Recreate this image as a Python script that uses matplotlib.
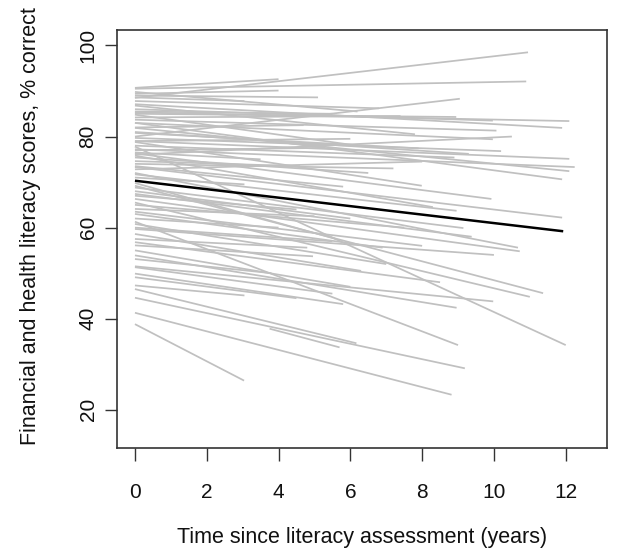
import matplotlib
matplotlib.use("Agg")
import matplotlib.pyplot as plt

# Individual trajectories: start time, start score, end time, end score
t_start = [0]*78 + [3.75]
y_start = [90.7, 88.5, 90.5, 89.4, 89.0, 88.6, 89.8, 87.8, 87.1, 85.3,
           85.0, 86.0, 85.5, 84.2, 83.7, 83.0, 83.0, 82.0, 81.9, 81.0,
           80.8, 80.0, 79.7, 79.0, 79.0, 78.8, 78.0, 77.8, 77.2, 77.0,
           76.5, 76.3, 76.0, 75.4, 74.6, 74.0, 73.5, 73.3, 72.8, 72.0,
           71.7, 71.0, 69.2, 68.8, 68.0, 67.4, 67.0, 66.3, 65.5, 65.0,
           64.1, 63.5, 63.0, 62.0, 61.3, 60.8, 60.0, 59.7, 58.6, 57.5,
           56.8, 56.1, 55.0, 53.9, 53.1, 51.5, 51.3, 49.9, 49.1, 47.3,
           46.5, 44.6, 41.3, 38.8, 86.8, 84.8, 75.8, 69.8, 37.8]
t_end = [4.0, 10.95, 10.9, 4.0, 5.1, 3.05, 6.2, 6.8, 11.9, 12.1,
         8.95, 9.97, 5.5, 7.4, 10.07, 11.9, 9.97, 4.7, 12.1, 9.3,
         7.9, 9.05, 10.2, 12.1, 6.0, 7.99, 8.9, 12.0, 12.25, 5.2,
         3.5, 9.93, 10.5, 6.5, 4.6, 7.2, 5.8, 11.9, 8.0, 10.67,
         8.96, 3.05, 11.37, 9.15, 6.0, 9.38, 4.5, 10.72, 11.0, 7.5,
         5.0, 8.0, 6.9, 4.0, 9.0, 7.0, 5.5, 10.0, 6.3, 4.8,
         8.5, 4.96, 6.0, 8.96, 3.8, 9.98, 5.5, 5.8, 4.5, 3.05,
         6.17, 9.19, 8.82, 3.04, 7.8, 6.2, 8.3, 5.6, 5.7]
y_end = [92.6, 98.5, 92.1, 90.1, 88.6, 87.8, 85.5, 86.2, 81.9, 83.4,
         84.3, 83.5, 85.0, 84.5, 81.3, 70.6, 79.4, 82.5, 72.4, 76.2,
         77.4, 88.3, 76.8, 75.1, 79.5, 69.2, 75.4, 34.2, 73.3, 77.5,
         75.0, 66.3, 80.0, 72.0, 73.5, 73.0, 69.0, 62.2, 74.5, 55.6,
         63.7, 69.5, 45.6, 59.9, 62.0, 58.0, 64.0, 54.8, 44.8, 60.0,
         62.5, 56.0, 55.6, 60.0, 34.2, 52.0, 57.0, 54.0, 50.5, 55.6,
         48.0, 53.7, 47.0, 42.4, 50.0, 43.8, 45.5, 43.2, 44.5, 45.1,
         34.6, 29.1, 23.3, 26.4, 80.5, 78.0, 64.5, 57.5, 33.7]

# Average trajectory
mean_t = [0, 11.93]
mean_y = [70.3, 59.2]

x_ticks = [0, 2, 4, 6, 8, 10, 12]
y_ticks = [20, 40, 60, 80, 100]

plt.rcParams['font.family'] = ['Liberation Sans', 'DejaVu Sans']

W, H = 617, 554
fig = plt.figure(figsize=(W/100, H/100), dpi=100)
left, right, top, bottom = 117, 607, 30, 448
ax = fig.add_axes([left/W, 1-bottom/H, (right-left)/W, (bottom-top)/H])

for ts, ys, te, ye in zip(t_start, y_start, t_end, y_end):
    ax.plot([ts, te], [ys, ye], color='#c0c0c0', lw=1.25, solid_capstyle='butt')
ax.plot(mean_t, mean_y, color='black', lw=1.8, solid_capstyle='butt')

ax.set_xlim(-0.5, 13.15)
ax.set_ylim(11.6, 103.4)
ax.set_xticks(x_ticks)
ax.set_yticks(y_ticks)
ax.set_yticklabels([str(v) for v in y_ticks], rotation=90, va='center')
ax.tick_params(axis='both', direction='out', length=9, width=1, labelsize=15,
               color='#333333', labelcolor='#111111')
ax.tick_params(axis='x', pad=16)
ax.tick_params(axis='y', pad=5)
for s in ax.spines.values():
    s.set_color('#333333')
    s.set_linewidth(1.2)

ax.set_xlabel('Time since literacy assessment (years)', fontsize=15.5, labelpad=18, color='#111111')
ax.set_ylabel('Financial and health literacy scores, % correct', fontsize=15.5, color='#111111')
ax.yaxis.set_label_coords(-0.155, 0.53)

fig.savefig('out.png', dpi=100)
